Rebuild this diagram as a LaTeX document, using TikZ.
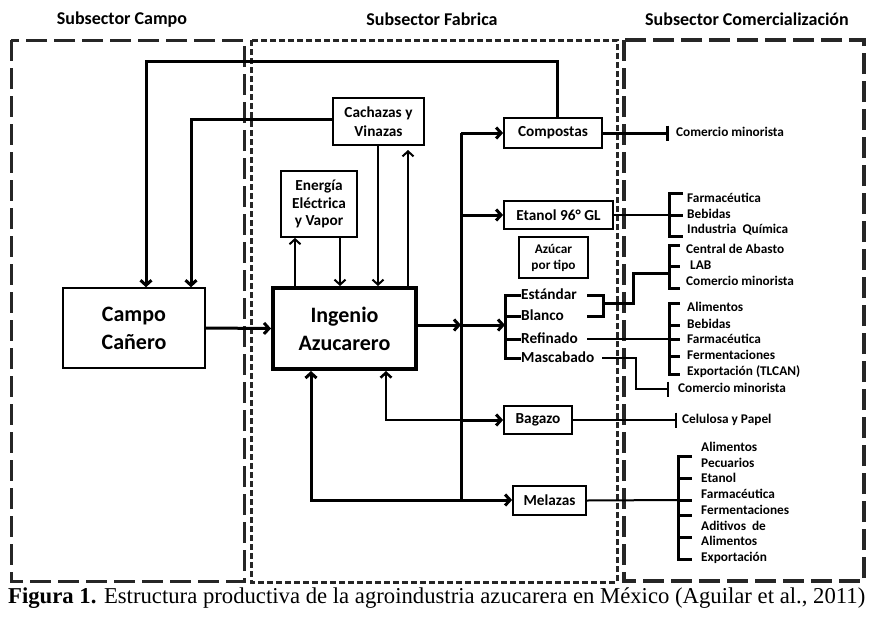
\documentclass[tikz,border=0pt]{standalone}
\usepackage{fontspec}
\setmainfont{Carlito}
\newfontfamily\fontlegende{Liberation Serif}
\usetikzlibrary{arrows.meta, positioning}

\begin{document}
\begin{tikzpicture}[x=1pt, y=-1pt,
    >={Straight Barb[length=5pt,width=11pt]},
    boite/.style={draw, line width=1.8pt, align=center, inner sep=0pt, font=\bfseries\fontsize{15.3}{19}\selectfont},
    gros/.style={boite, font=\bfseries\fontsize{22}{28}\selectfont},
    titre/.style={font=\bfseries\fontsize{18}{20}\selectfont},
    liste/.style={anchor=west, inner sep=0pt, font=\bfseries\fontsize{13.3}{15}\selectfont, text height=9pt, text depth=1.5pt},
    sorte/.style={liste, font=\bfseries\fontsize{15.3}{17}\selectfont, text width=66pt, align=left, text height=10pt, text depth=2pt},
    trait/.style={line width=3pt},
    fin/.style={line width=2pt},
    zone/.style={line width=3pt, draw=black!85, dash pattern=on 21pt off 7pt},
    zonef/.style={line width=3pt, draw=black!85, dash pattern=on 6pt off 3pt}]
    \useasboundingbox (0,0) rectangle (886,616);

    % Les trois sous-secteurs
    \draw[zone] (11,40) rectangle (244,581);
    \draw[zonef] (251,40) rectangle (617,582);
    \draw[zone, line width=3.5pt] (624,40) rectangle (864,581);
    \node[titre] (tcampo) at (122,19.5) {Subsector Campo};
    \node[titre] (tfabrica) at (432,19.5) {Subsector Fabrica};
    \node[titre] (tcomercio) at (747,19.5) {Subsector Comercialización};

    % Boites principales
    \node[gros, line width=1.5pt, minimum width=142pt, minimum height=80pt] (campo) at (134,328) {Campo\\Cañero};
    \node[gros, line width=4pt, minimum width=143pt, minimum height=81pt] (ingenio) at (344.5,328.5) {Ingenio\\Azucarero};
    \node[boite, minimum width=91pt, minimum height=47pt] (cachazas) at (378.5,121.5) {Cachazas y\\Vinazas};
    \node[boite, minimum width=76pt, minimum height=66pt, font=\bfseries\fontsize{15.3}{17.5}\selectfont] (energia) at (319,204) {Energía\\Eléctrica\\y Vapor};
    \node[boite, minimum width=98pt, minimum height=30pt] (compostas) at (553,133) {Compostas};
    \node[boite, minimum width=109pt, minimum height=28pt] (etanol) at (558.5,215) {Etanol 96° GL};
    \node[boite, minimum width=69pt, minimum height=41pt, font=\bfseries\fontsize{13.3}{16}\selectfont] (azucar) at (553.5,257.5) {Azúcar\\por tipo};
    \node[boite, minimum width=68pt, minimum height=28pt] (bagazo) at (538,420) {Bagazo};
    \node[boite, minimum width=73pt, minimum height=29pt] (melazas) at (549.5,500.5) {Melazas};

    % Sortes de sucre
    \node[sorte] (estandar) at (521,295) {Estándar};
    \node[sorte] (blanco) at (521,316) {Blanco};
    \node[sorte] (refinado) at (521,339) {Refinado};
    \node[sorte] (mascabado) at (521,358) {Mascabado};

    % Points de passage
    \coordinate (haut) at (146,61);
    \coordinate (gauche) at (191,119);
    \coordinate (e1) at (295,0);
    \coordinate (e2) at (340,0);
    \coordinate (c1) at (378,0);
    \coordinate (c2) at (408,150);
    \coordinate (bus) at (461,133);
    \coordinate (busbas) at (461,500);
    \coordinate (sucre) at (505,325);
    \coordinate (r1) at (386,420);
    \coordinate (r2) at (311,500);
    \coordinate (eb) at (603,303);
    \coordinate (coin) at (633,273);
    \coordinate (m1) at (636,361);
    \coordinate (m2) at (669,389);
    \coordinate (bCo) at (669,133);
    \coordinate (bEt) at (669,215);
    \coordinate (bCa) at (669,273);
    \coordinate (bRe) at (669,339);
    \coordinate (bBa) at (677,420);
    \coordinate (bMe) at (678,500);

    % Retours vers le campo
    \draw[trait,->] ([xshift=4pt]compostas.north) |- (haut) -- (haut |- campo.north);
    \draw[trait,->] (cachazas.west |- gauche) -- (gauche) -- (gauche |- campo.north);
    \draw[trait,->] (campo.east) -- (ingenio.west);

    % Energie et cachazas
    \draw[fin,->] (ingenio.north -| e1) -- (energia.south -| e1);
    \draw[fin,->] (energia.south -| e2) -- (ingenio.north -| e2);
    \draw[fin,->] (cachazas.south -| c1) -- (ingenio.north -| c1);
    \draw[fin,->] (ingenio.north -| c2) -- (c2);

    % Distribution des produits
    \draw[trait] (bus) -- (busbas);
    \draw[trait,->] (bus |- compostas) -- (compostas.west);
    \draw[trait,->] (bus |- etanol) -- (etanol.west);
    \draw[trait,->] (ingenio.east |- sucre) -- (bus |- sucre);
    \draw[trait,->] (bus |- sucre) -- (sucre);
    \draw[trait,->] (bus |- bagazo) -- (bagazo.west);
    \draw[trait,->] (busbas) -- (busbas -| melazas.west);
    \draw[line width=2.5pt,->] (bus |- bagazo) -| (ingenio.south -| r1);
    \draw[trait,->] (busbas) -| (ingenio.south -| r2);

    % Accolade des sucres
    \draw[trait] (estandar.west) -- (sucre |- estandar) -- (sucre |- mascabado) -- (mascabado.west);
    \draw[trait] (sucre |- blanco) -- (blanco.west);
    \draw[trait] (sucre |- refinado) -- (refinado.west);
    \draw[trait] (estandar.east) -| (eb |- blanco) -- (blanco.east);
    \draw[trait] (eb) -| (coin) -- (bCa);
    \draw[fin] (refinado.east) -- (bRe);
    \draw[fin,-{Bar[width=15pt]}] ([xshift=15pt]mascabado.east) -| (m1) |- (m2);

    % Vers la commercialisation
    \draw[trait,-{Bar[width=15pt]}] (compostas.east) -- (bCo);
    \draw[fin] (etanol.east) -- (bEt);
    \draw[fin,-{Bar[width=15pt]}] (bagazo.east) -- (bBa);
    \draw[fin] (melazas.east) -- (bMe);

    % Accolades
    \draw[trait] (bEt) ++(14,-22) -- ++(-14,0) -- ++(0,43) -- ++(14,0);
    \draw[trait] (bEt) -- ++(14,0);
    \draw[trait] (bCa) ++(11,-28) -- ++(-11,0) -- ++(0,43) -- ++(11,0);
    \draw[trait] (bCa) ++(0,-7) -- ++(11,0);
    \draw[trait] (bRe) ++(11,-36) -- ++(-11,0) -- ++(0,71) -- ++(11,0);
    \draw[trait] (bRe) ++(0,-14) -- ++(11,0);
    \draw[trait] (bRe) -- ++(11,0);
    \draw[trait] (bRe) ++(0,17) -- ++(11,0);
    \draw[trait] (bMe) ++(14,-44) -- ++(-14,0) -- ++(0,103) -- ++(14,0);
    \draw[trait] (bMe) ++(0,-22) -- ++(14,0);
    \draw[trait] (bMe) -- ++(14,0);
    \draw[trait] (bMe) ++(0,15) -- ++(14,0);
    \draw[trait] (bMe) ++(0,37) -- ++(14,0);

    % Marches
    \node[liste] (co1) at (676,133) {Comercio minorista};
    \node[liste] (et1) at (687,199) {Farmacéutica};
    \node[liste] (et2) at (687,215) {Bebidas};
    \node[liste] (et3) at (687,230) {Industria~ Química};
    \node[liste] (ca1) at (686,250) {Central de Abasto};
    \node[liste] (ca2) at (690,266) {LAB};
    \node[liste] (ca3) at (686,282) {Comercio minorista};
    \node[liste] (re1) at (687,308) {Alimentos};
    \node[liste] (re2) at (687,325) {Bebidas};
    \node[liste] (re3) at (687,340) {Farmacéutica};
    \node[liste] (re4) at (687,356) {Fermentaciones};
    \node[liste] (re5) at (687,372) {Exportación (TLCAN)};
    \node[liste] (ma1) at (678,389) {Comercio minorista};
    \node[liste] (ba1) at (682,420) {Celulosa y Papel};
    \node[liste] (me1) at (701,448) {Alimentos};
    \node[liste] (me2) at (701,464) {Pecuarios};
    \node[liste] (me3) at (701,479) {Etanol};
    \node[liste] (me4) at (701,495) {Farmacéutica};
    \node[liste] (me5) at (701,511) {Fermentaciones};
    \node[liste] (me6) at (701,527) {Aditivos~ de};
    \node[liste] (me7) at (701,542) {Alimentos};
    \node[liste] (me8) at (701,558) {Exportación};

    % Legende
    \node[anchor=west, inner sep=0pt, font=\fontlegende\fontsize{22.7}{25}\selectfont] (legende) at (8,598)
        {\textbf{Figura 1.} Estructura productiva de la agroindustria azucarera en México (Aguilar et al., 2011)};
\end{tikzpicture}
\end{document}
